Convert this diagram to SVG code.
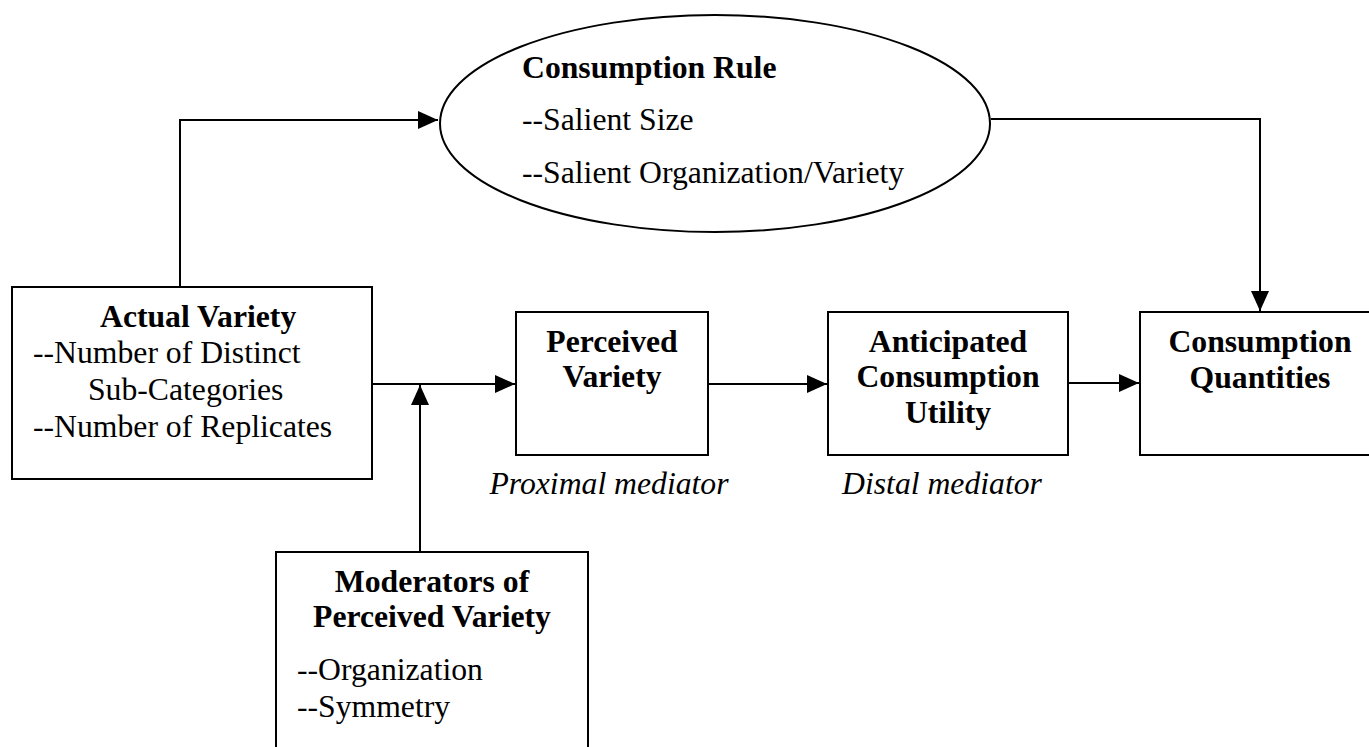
<svg xmlns="http://www.w3.org/2000/svg" width="1369" height="747" viewBox="0 0 1369 747">
<style>
.box{fill:#fff;stroke:#000;stroke-width:2}
.ln{fill:none;stroke:#000;stroke-width:2}
text{font-family:"Liberation Serif","Times New Roman",serif;font-size:31.7px;fill:#000}
.b{font-weight:bold}
.c{text-anchor:middle}
.i{font-style:italic}
</style>
<defs>
<marker id="ah" markerUnits="userSpaceOnUse" markerWidth="20" markerHeight="18" refX="20" refY="9" orient="auto">
<polygon points="0,0 20,9 0,18" fill="#000"/>
</marker>
</defs>
<rect width="1369" height="747" fill="#fff"/>
<g id="connectors">
<polyline class="ln" points="180,287 180,120 438,120" marker-end="url(#ah)"/>
<polyline class="ln" points="991,119 1260,119 1260,311" marker-end="url(#ah)"/>
<line class="ln" x1="372" y1="384" x2="515" y2="384" marker-end="url(#ah)"/>
<line class="ln" x1="420" y1="552" x2="420" y2="385" marker-end="url(#ah)"/>
<line class="ln" x1="708" y1="384" x2="827" y2="384" marker-end="url(#ah)"/>
<line class="ln" x1="1068" y1="383" x2="1139" y2="383" marker-end="url(#ah)"/>
</g>
<g id="consumption-rule">
<ellipse class="box" cx="715" cy="123.5" rx="275" ry="108.5"/>
<text class="b" x="522" y="78">Consumption Rule</text>
<text x="522" y="130">--Salient Size</text>
<text x="522" y="183">--Salient Organization/Variety</text>
</g>
<g id="actual-variety">
<rect class="box" x="12" y="287" width="360" height="192"/>
<text class="b" x="100" y="327">Actual Variety</text>
<text x="33" y="363">--Number of Distinct</text>
<text x="88" y="400">Sub-Categories</text>
<text x="33" y="437">--Number of Replicates</text>
</g>
<g id="perceived-variety">
<rect class="box" x="516" y="312" width="192" height="143"/>
<text class="b c" x="612" y="352">Perceived</text>
<text class="b c" x="612" y="387">Variety</text>
<text class="i c" x="609" y="494">Proximal mediator</text>
</g>
<g id="anticipated-utility">
<rect class="box" x="828" y="312" width="240" height="143"/>
<text class="b c" x="948" y="352">Anticipated</text>
<text class="b c" x="948" y="387">Consumption</text>
<text class="b c" x="948" y="423">Utility</text>
<text class="i c" x="942" y="494">Distal mediator</text>
</g>
<g id="consumption-quantities">
<rect class="box" x="1140" y="312" width="240" height="143"/>
<text class="b c" x="1260" y="352">Consumption</text>
<text class="b c" x="1260" y="388">Quantities</text>
</g>
<g id="moderators">
<rect class="box" x="276" y="552" width="312" height="220"/>
<text class="b c" x="432" y="592">Moderators of</text>
<text class="b c" x="432" y="627">Perceived Variety</text>
<text x="297" y="680">--Organization</text>
<text x="297" y="717">--Symmetry</text>
</g>
</svg>
